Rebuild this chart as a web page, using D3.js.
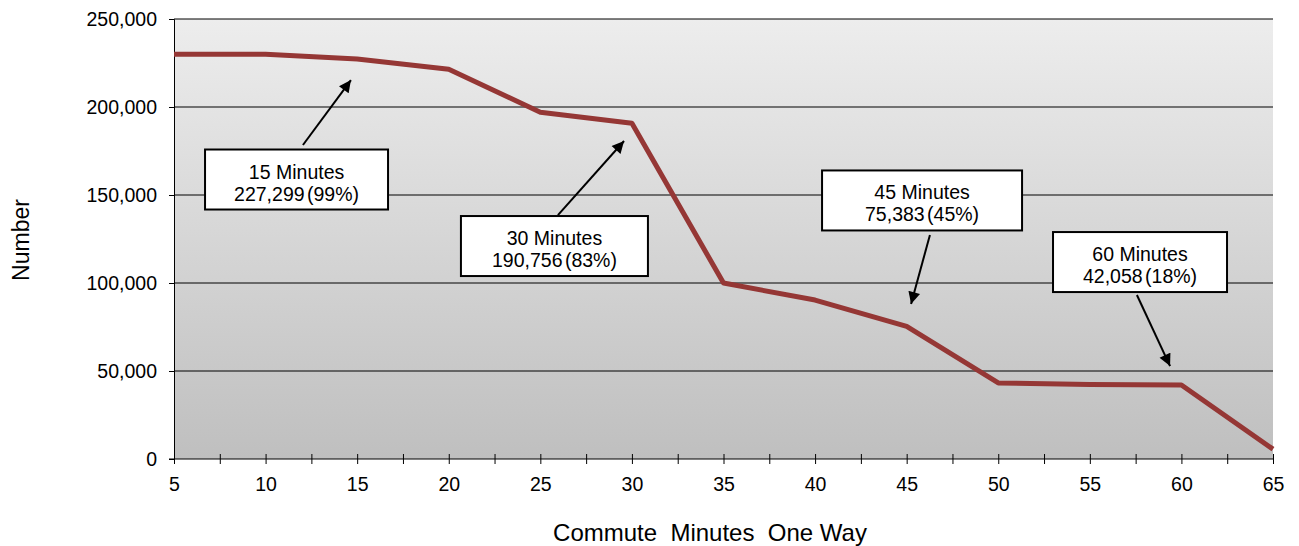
<!DOCTYPE html>
<html lang="en">
<head>
  <meta charset="utf-8">
  <title>Commute minutes one way</title>
  <script src="https://d3js.org/d3.v7.min.js"></script>
  <style>
    body { margin: 0; background: #fff; }
    svg text { font-family: Arial, "Liberation Sans", sans-serif; fill: #000; }
  </style>
</head>
<body>
  <svg id="chart" width="1299" height="546"></svg>
  <script>
    // commute minutes (one way) and number of workers
    var minutes = [5, 10, 15, 20, 25, 30, 35, 40, 45, 50, 55, 60, 65];
    var counts = [230000, 230000, 227299, 221500, 197000, 190756, 100000, 90300, 75383, 43200, 42300, 42058, 5600];
    var yTicks = [0, 50000, 100000, 150000, 200000, 250000];
    var xTicks = [5, 10, 15, 20, 25, 30, 35, 40, 45, 50, 55, 60, 65];

    // callouts: label lines, box centre and arrow start/tip in data units
    var calloutTitles = ['15 Minutes', '30 Minutes', '45 Minutes', '60 Minutes'];
    var calloutValues = ['227,299 (99%)', '190,756 (83%)', '75,383 (45%)', '42,058 (18%)'];
    var calloutBox = [[11.69, 158800], [25.77, 121000], [45.84, 146900], [57.74, 111900]];
    var calloutArrowFrom = [[12.04, 178400], [25.96, 138600], [46.27, 127300], [57.57, 93200]];
    var calloutArrowTo = [[14.66, 215300], [29.57, 180700], [45.24, 88100], [59.38, 52800]];
    var boxW = [183, 187, 200, 174];

    var margin = { left: 174, right: 26, top: 19, bottom: 87 };
    var W = 1299, H = 546;
    var svg = d3.select('#chart');

    var x = d3.scaleLinear().domain([5, 65]).range([margin.left, W - margin.right]);
    var y = d3.scaleLinear().domain([0, 250000]).range([H - margin.bottom, margin.top]);

    var defs = svg.append('defs');
    var grad = defs.append('linearGradient')
      .attr('id', 'bg').attr('x1', 0).attr('y1', 0).attr('x2', 0).attr('y2', 1);
    grad.append('stop').attr('offset', '0%').attr('stop-color', '#ededed');
    grad.append('stop').attr('offset', '100%').attr('stop-color', '#bfbfbf');

    defs.append('marker')
      .attr('id', 'head')
      .attr('viewBox', '0 0 10 10')
      .attr('refX', 10).attr('refY', 5)
      .attr('markerWidth', 6.5).attr('markerHeight', 6)
      .attr('markerUnits', 'strokeWidth')
      .attr('orient', 'auto')
      .append('path')
      .attr('d', 'M0,0L10,5L0,10Z')
      .attr('fill', '#000');

    svg.append('rect')
      .attr('x', x(5)).attr('y', y(250000))
      .attr('width', x(65) - x(5)).attr('height', y(0) - y(250000))
      .attr('fill', 'url(#bg)');

    // grid lines
    svg.append('g')
      .selectAll('line')
      .data(yTicks.filter(d => d > 0))
      .enter()
      .append('line')
      .attr('x1', x(5)).attr('x2', x(65))
      .attr('y1', d => y(d)).attr('y2', d => y(d))
      .attr('stroke', '#000').attr('stroke-width', 1);

    // y axis
    var yAxis = svg.append('g')
      .attr('transform', `translate(${x(5)},0)`)
      .call(d3.axisLeft(y).tickValues(yTicks).tickSize(5).tickPadding(12)
        .tickFormat(d3.format(',')));
    yAxis.selectAll('text').style('font-size', '19.5px');

    // x axis, minor ticks every 2.5 crossing the axis
    var xAxis = svg.append('g')
      .attr('transform', `translate(0,${y(0)})`)
      .call(d3.axisBottom(x).tickValues(d3.range(5, 65.1, 2.5)).tickSize(5).tickPadding(13)
        .tickFormat(d => xTicks.indexOf(d) >= 0 ? d : ''));
    xAxis.selectAll('.tick line').attr('y1', -5);
    xAxis.selectAll('text').style('font-size', '19.5px');

    [yAxis, xAxis].forEach(g => {
      g.select('.domain').attr('stroke', '#000');
      g.selectAll('.tick line').attr('stroke', '#000');
    });
    xAxis.select('.domain').attr('d', `M${x(5) - 5},0H${x(65)}`);

    // data line
    var line = d3.line()
      .x((d, i) => x(minutes[i]))
      .y(d => y(d));
    svg.append('path')
      .attr('d', line(counts))
      .attr('fill', 'none')
      .attr('stroke', '#953735')
      .attr('stroke-width', 5)
      .attr('stroke-linejoin', 'round');

    // callouts
    calloutTitles.forEach((t, i) => {
      svg.append('line')
        .attr('x1', x(calloutArrowFrom[i][0])).attr('y1', y(calloutArrowFrom[i][1]))
        .attr('x2', x(calloutArrowTo[i][0])).attr('y2', y(calloutArrowTo[i][1]))
        .attr('stroke', '#000').attr('stroke-width', 2)
        .attr('marker-end', 'url(#head)');

      var cx = x(calloutBox[i][0]), cy = y(calloutBox[i][1]);
      var g = svg.append('g').attr('transform', `translate(${cx},${cy})`);
      g.append('rect')
        .attr('x', -boxW[i] / 2).attr('y', -30)
        .attr('width', boxW[i]).attr('height', 60)
        .attr('fill', '#fff').attr('stroke', '#000').attr('stroke-width', 2);
      g.append('text').attr('text-anchor', 'middle').attr('y', -1)
        .style('font-size', '19.5px').text(t);
      g.append('text').attr('text-anchor', 'middle').attr('y', 21)
        .style('font-size', '19.5px').style('word-spacing', '-3px').text(calloutValues[i]);
    });

    // axis titles
    svg.append('text')
      .attr('x', 710).attr('y', 541)
      .attr('text-anchor', 'middle')
      .style('font-size', '24px')
      .style('white-space', 'pre')
      .text('Commute  Minutes  One Way');

    svg.append('text')
      .attr('transform', 'translate(29,240) rotate(-90)')
      .attr('text-anchor', 'middle')
      .style('font-size', '23px')
      .text('Number');
  </script>
</body>
</html>
